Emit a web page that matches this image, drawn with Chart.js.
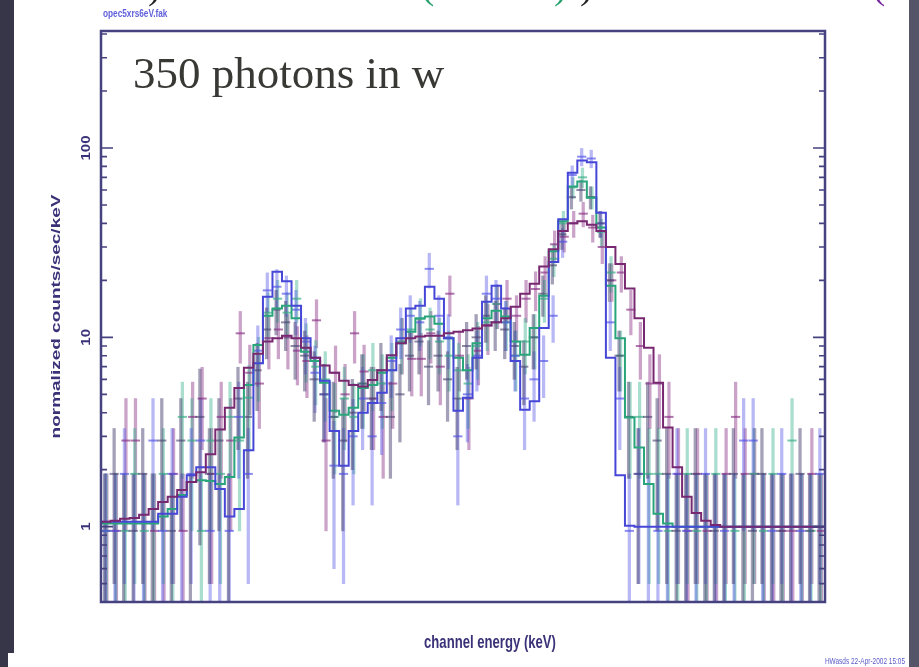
<!DOCTYPE html>
<html>
<head>
<meta charset="utf-8">
<title>opec5xrs6eV.fak</title>
<script src="https://cdn.jsdelivr.net/npm/chart.js@4.4.1/dist/chart.umd.min.js"></script>
<style>
  html, body { margin: 0; padding: 0; }
  body {
    width: 919px; height: 667px; position: relative; overflow: hidden;
    background: linear-gradient(90deg, #363648 0%, #55556a 100%);
  }
  #panel { position: absolute; left: 14px; top: 0; width: 895px; height: 667px; background: #fff; }
  #notch { position: absolute; left: 8px; top: 653px; width: 8px; height: 14px; background: #fff; }
  #spectrum { position: absolute; left: 0; top: 0; }
</style>
</head>
<body>
<div id="panel"></div>
<div id="notch"></div>
<canvas id="spectrum" width="919" height="667"></canvas>
<script>
// model curves, one value per channel bin (counts/sec/keV)
const modelBlue = [
  1.06, 1.06, 1.06, 1.06, 1.06, 1.06, 1.17, 1.17, 1.44, 1.87,
  2.06, 2.06, 1.58, 1.13, 1.24, 2.53, 7.3, 16.4, 22.2, 19.8,
  14.7, 9.9, 7.8, 5.9, 3.2, 2.1, 3.2, 4.0, 4.5, 5.1,
  6.7, 9.9, 14.2, 14.7, 18.5, 16.0, 9.9, 4.1, 4.8, 7.8,
  15.4, 18.7, 14.2, 7.5, 4.15, 4.6, 11.2, 25, 42, 74,
  86, 84, 45.5, 7.8, 1.87, 1.01, 1, 1, 1, 1,
  1, 1, 1, 1, 1, 1, 1, 1, 1, 1,
  1, 1, 1, 1, 1, 1
];
const modelGreen = [
  1.04, 1.04, 1.04, 1.04, 1.04, 1.04, 1.13, 1.24, 1.47, 1.72,
  1.76, 1.74, 1.68, 1.83, 2.96, 5.6, 9.1, 13.0, 14.2, 14.7,
  12.6, 8.4, 7.5, 5.75, 4.1, 3.9, 4.25, 5.4, 5.6, 6.5,
  7.8, 9.3, 10.7, 12.6, 12.9, 11.8, 9.9, 7.8, 6.7, 9.3,
  12.6, 13.8, 12.9, 9.5, 8.1, 11.2, 16.6, 28.5, 41, 62.6,
  66.5, 54.6, 38, 18.7, 9.9, 3.77, 2.62, 1.68, 1.17, 1.04,
  1, 1, 1, 1, 1, 1, 1, 1, 1, 1,
  1, 1, 1, 1, 1, 1
];
const modelPurple = [
  1.06, 1.075, 1.10, 1.11, 1.155, 1.24, 1.35, 1.44, 1.56, 1.72,
  1.94, 2.41, 3.26, 4.25, 5.4, 6.9, 8.2, 9.5, 9.9, 10.2,
  9.9, 8.8, 7.8, 7.1, 6.5, 5.9, 5.6, 5.5, 5.95, 6.7,
  8.05, 9.3, 9.9, 10.1, 10.2, 10.2, 10.5, 10.7, 10.9, 11.15,
  11.6, 12.0, 12.6, 14.5, 17.0, 19.2, 23.7, 29.2, 36.4, 40.1,
  41, 39.3, 36.4, 30, 24.4, 18.1, 12.6, 8.8, 5.75, 3.34,
  2.06, 1.44, 1.18, 1.075, 1.02, 1, 1, 1, 1, 1,
  1, 1, 1, 1, 1, 1
];

// folded data and 1-sigma errors for the four spectra
const dataDark = [
  0, 1.9, 0, 0.95, 1.9, 0, 2.85, 0.95, 2.85, 0,
  3.8, 1.9, 2.85, 0, 4.75, 3.8, 6.7, 11, 14, 12,
  9, 8, 6, 5, 3.8, 2.85, 4, 5.7, 4.75, 6.7,
  3.8, 5, 8, 9.5, 7, 8, 6, 4.75, 9, 10,
  13, 12, 11, 9, 7, 10, 17, 24, 35, 55,
  60, 55, 40, 20, 8, 3.8, 1.9, 3.8, 2.85, 1.9,
  0.95, 0, 1.9, 0, 0.95, 0, 1.9, 0, 0.95, 1.9,
  0, 0.95, 0, 1.9, 0.95, 0
];
const errDark = [
  1.9, 1.4, 1.9, 0.95, 1.4, 1.9, 1.9, 0.95, 1.9, 1.9,
  3.0, 1.4, 1.9, 1.9, 2.2, 2.0, 2.6, 3.3, 3.7, 3.5,
  3.0, 2.8, 2.4, 2.2, 2.0, 1.9, 2.0, 2.4, 2.2, 2.6,
  2.0, 2.2, 2.8, 3.1, 2.6, 2.8, 2.4, 2.2, 3.0, 3.2,
  3.6, 3.5, 3.3, 3.0, 2.6, 3.2, 4.1, 4.9, 5.9, 7.4,
  7.7, 7.4, 6.3, 4.5, 2.8, 2.0, 1.4, 2.0, 1.9, 1.4,
  0.95, 1.9, 1.4, 1.9, 0.95, 1.9, 1.4, 1.9, 0.95, 1.4,
  1.9, 0.95, 1.9, 1.4, 0.95, 1.9
];
const dataBlue = [
  0.95, 0.95, 1.9, 0, 0, 2.85, 0.95, 1.9, 0, 1.9,
  2.85, 0.95, 0, 0.95, 3.8, 1.9, 8.5, 17.7, 18.5, 17,
  14, 9.5, 6.5, 5, 2.1, 1.9, 3, 4.75, 3, 4.5,
  7.5, 11, 13, 12, 23, 13, 10, 3, 5, 8,
  17, 16, 12, 8, 4.75, 6, 7.5, 13, 32, 72,
  90, 88, 40, 12, 4.75, 0.95, 1.9, 0, 0.95, 0,
  1.9, 0.95, 0, 1.9, 0, 0.95, 0, 2.85, 2.85, 0,
  0.95, 1.9, 0, 0.95, 0, 1.9
];
const errBlue = [
  0.95, 0.95, 1.4, 1.9, 1.9, 1.9, 0.95, 1.4, 1.9, 1.4,
  1.9, 0.95, 1.9, 0.95, 2.0, 1.4, 3.0, 4.2, 4.3, 4.1,
  3.7, 3.1, 2.5, 2.2, 1.5, 1.4, 1.7, 2.2, 1.7, 2.1,
  2.7, 3.3, 3.6, 3.5, 4.8, 3.6, 3.2, 1.7, 2.2, 2.8,
  4.1, 4.0, 3.5, 2.8, 2.2, 2.4, 2.7, 3.6, 5.6, 8.5,
  9.5, 9.4, 6.3, 3.5, 2.2, 0.95, 1.4, 1.9, 0.95, 1.9,
  1.4, 0.95, 1.9, 1.4, 1.9, 0.95, 1.9, 1.9, 1.9, 1.9,
  0.95, 1.4, 1.9, 0.95, 1.9, 1.4
];
const dataGreen = [
  0.95, 0, 0.95, 1.9, 0.95, 0, 1.9, 0, 3.8, 2.85,
  0.95, 2.85, 1.9, 3.8, 2.85, 4.8, 7.3, 13.5, 16, 13.5,
  16, 8.8, 7, 6, 3.8, 4.75, 3.8, 5.7, 6.7, 5.7,
  6.7, 9.5, 11, 12.5, 11, 9.5, 8, 6.7, 5.7, 9,
  12, 15, 12, 8, 9.5, 10, 16, 26, 40, 62,
  70, 55, 36, 22, 8, 3.8, 3.8, 1.9, 1.9, 0.95,
  0, 1.9, 0.95, 0, 1.9, 0, 0.95, 0, 1.9, 0.95,
  1.9, 0, 2.85, 0, 0.95, 0
];
const errGreen = [
  0.95, 1.9, 0.95, 1.4, 0.95, 1.9, 1.4, 1.9, 2.0, 1.9,
  0.95, 1.9, 1.4, 2.0, 1.9, 2.3, 2.7, 3.7, 4.0, 3.7,
  4.0, 3.0, 2.6, 2.4, 1.9, 2.2, 1.9, 2.4, 2.6, 2.4,
  2.6, 3.1, 3.3, 3.5, 3.3, 3.1, 2.8, 2.6, 2.4, 3.0,
  3.5, 3.9, 3.5, 2.8, 3.1, 3.2, 4.0, 5.1, 6.3, 7.9,
  8.4, 7.4, 6.0, 4.7, 2.8, 2.0, 2.0, 1.4, 1.4, 0.95,
  1.9, 1.4, 0.95, 1.9, 1.4, 1.9, 0.95, 1.9, 1.4, 0.95,
  1.4, 1.9, 1.9, 1.9, 0.95, 1.9
];
const dataPurple = [
  0.95, 0.95, 2.85, 2.85, 0, 0.95, 0, 1.9, 0.95, 3.8,
  4.75, 1.9, 3.8, 2.85, 10.5, 6.5, 5.7, 9.9, 11, 10,
  8.5, 7.5, 12.3, 2.85, 6.5, 5, 10.5, 6.6, 4.75, 3.8,
  5.7, 9.5, 7.7, 7.7, 10.5, 7, 17, 8, 4.75, 8.5,
  11.5, 15, 16, 13, 16, 18, 22, 31, 34, 40,
  45, 38, 30, 20, 22, 14, 9, 5.7, 5.7, 3.8,
  1.9, 0.95, 1.9, 0.95, 0, 1.9, 3.8, 1.9, 1.9, 0,
  0, 0.95, 0.95, 0, 1.9, 0.95
];
const errPurple = [
  0.95, 0.95, 1.9, 1.9, 1.9, 0.95, 1.9, 1.4, 0.95, 2.0,
  2.2, 1.4, 2.0, 1.9, 3.2, 2.6, 2.4, 3.1, 3.3, 3.2,
  2.9, 2.7, 3.5, 1.9, 2.5, 2.2, 3.2, 2.5, 2.2, 2.0,
  2.4, 3.1, 2.8, 2.8, 3.2, 2.6, 4.1, 2.8, 2.2, 2.9,
  3.4, 3.9, 4.0, 3.6, 4.0, 4.2, 4.7, 5.5, 5.8, 6.3,
  6.7, 6.2, 5.5, 4.5, 4.7, 3.7, 3.0, 2.4, 2.4, 2.0,
  1.4, 0.95, 1.4, 0.95, 1.9, 1.4, 2.0, 1.4, 1.4, 1.9,
  1.9, 0.95, 0.95, 1.9, 1.4, 0.95
];

const yTicks = [1, 10, 100];
const yRange = [0.4, 415];
const nChan = modelBlue.length;

const frameColor = 'rgb(70, 66, 128)';
const labelColor = 'rgb(58, 50, 120)';
const sansFont = '"Liberation Sans", Arial, sans-serif';

// model lines as histograms: a point at each bin's left edge plus the final edge
function stepPoints(values) {
  const pts = values.map((v, i) => ({ x: i, y: v }));
  pts.push({ x: values.length, y: values[values.length - 1] });
  return pts;
}

// vertical error bars, floor the lower end where it drops to zero
function errorBars(values, errs, shift) {
  return values.map((v, i) => ({
    x: i + 0.5 + shift,
    y: [Math.max(v - errs[i], 0.05), v + errs[i]]
  }));
}

// horizontal tick at each measured value (empty bins have none)
function dataTicks(values, shift) {
  return values
    .map((v, i) => ({ x: i + 0.5 + shift, y: v }))
    .filter(p => p.y > 0);
}

function barSet(values, errs, shift, color, order) {
  return {
    type: 'bar', data: errorBars(values, errs, shift), backgroundColor: color,
    borderWidth: 0, barThickness: 2.6, grouped: false, order: order
  };
}

function tickSet(values, shift, color, order) {
  return {
    type: 'line', data: dataTicks(values, shift), showLine: false,
    pointStyle: 'line', pointRadius: 4.6, pointBorderWidth: 2,
    pointBorderColor: color, pointBackgroundColor: color, order: order
  };
}

function modelSet(values, color, order) {
  return {
    type: 'line', data: stepPoints(values), stepped: true,
    borderColor: color, borderWidth: 2, pointRadius: 0, fill: false, order: order
  };
}

// draw text squeezed horizontally, like the rest of the plot
function squeezed(ctx, text, x, y, font, color, align, sx, angle) {
  ctx.save();
  ctx.translate(x, y);
  ctx.scale(sx, 1);
  if (angle) ctx.rotate(angle);
  ctx.font = font;
  ctx.fillStyle = color;
  ctx.textAlign = align;
  ctx.textBaseline = angle ? 'middle' : 'alphabetic';
  ctx.fillText(text, 0, 0);
  ctx.restore();
}

const framePlugin = {
  id: 'frame',
  afterDraw(chart) {
    const { ctx, chartArea: area, scales: { y } } = chart;
    ctx.save();

    ctx.strokeStyle = frameColor;
    ctx.lineWidth = 2.5;
    ctx.strokeRect(area.left, area.top, area.right - area.left, area.bottom - area.top);

    // log ticks on both vertical edges, pointing inward
    ctx.lineWidth = 1.6;
    for (let dec = 0.1; dec <= 100; dec *= 10) {
      for (let m = 1; m <= 9; m++) {
        const v = m * dec;
        if (v < yRange[0] || v > yRange[1]) continue;
        const py = y.getPixelForValue(v);
        const len = m === 1 ? 12 : 6;
        ctx.beginPath();
        ctx.moveTo(area.left, py);
        ctx.lineTo(area.left + len, py);
        ctx.moveTo(area.right, py);
        ctx.lineTo(area.right - len, py);
        ctx.stroke();
      }
    }

    yTicks.forEach(t => {
      squeezed(ctx, String(t), area.left - 14, y.getPixelForValue(t),
        'bold 15px ' + sansFont, labelColor, 'center', 0.8, -Math.PI / 2);
    });

    squeezed(ctx, 'normalized counts/sec/keV', 56, (area.top + area.bottom) / 2,
      'bold 19px ' + sansFont, labelColor, 'center', 0.7, -Math.PI / 2);
    squeezed(ctx, 'channel energy (keV)', 490, 648,
      'bold 19px ' + sansFont, labelColor, 'center', 0.69);

    squeezed(ctx, 'opec5xrs6eV.fak', 103, 17,
      'bold 11px ' + sansFont, 'rgb(95, 95, 220)', 'left', 0.75);
    squeezed(ctx, 'HWasds 22-Apr-2002 15:05', 905, 664,
      '9px ' + sansFont, 'rgb(90, 90, 200)', 'right', 0.72);

    ctx.font = '45px "Liberation Serif", "Times New Roman", serif';
    ctx.fillStyle = '#383834';
    ctx.textAlign = 'left';
    ctx.textBaseline = 'alphabetic';
    ctx.fillText('350 photons in w', 133, 88);

    // tails of the heading line above the plot
    ctx.font = '40px "Liberation Serif", serif';
    ctx.fillStyle = '#222';
    ctx.fillText(')', 148, -2);
    ctx.fillText(')', 580, -2);
    ctx.fillStyle = 'rgb(40, 160, 110)';
    ctx.fillText('(', 421, -2);
    ctx.fillText(')', 554, -2);
    ctx.fillStyle = 'rgb(120, 40, 160)';
    ctx.fillText('(', 872, -2);

    ctx.restore();
  }
};

new Chart(document.getElementById('spectrum'), {
  type: 'bar',
  data: {
    datasets: [
      modelSet(modelPurple, 'rgb(120, 40, 112)', 0),
      modelSet(modelBlue, 'rgb(70, 70, 215)', 1),
      modelSet(modelGreen, 'rgb(40, 165, 122)', 2),
      tickSet(dataDark, -0.12, 'rgba(70, 64, 110, 0.6)', 3),
      tickSet(dataBlue, -0.04, 'rgba(80, 80, 230, 0.65)', 4),
      tickSet(dataGreen, 0.04, 'rgba(50, 170, 130, 0.65)', 5),
      tickSet(dataPurple, 0.12, 'rgba(135, 45, 130, 0.65)', 6),
      barSet(dataDark, errDark, -0.12, 'rgba(72, 66, 112, 0.5)', 7),
      barSet(dataBlue, errBlue, -0.04, 'rgba(85, 85, 230, 0.42)', 8),
      barSet(dataGreen, errGreen, 0.04, 'rgba(50, 175, 135, 0.42)', 9),
      barSet(dataPurple, errPurple, 0.12, 'rgba(140, 50, 135, 0.45)', 10)
    ]
  },
  options: {
    responsive: false,
    animation: false,
    devicePixelRatio: 1,
    events: [],
    layout: { padding: { left: 101, right: 94, top: 31, bottom: 65 } },
    plugins: { legend: { display: false }, tooltip: { enabled: false } },
    scales: {
      x: { type: 'linear', min: 0, max: nChan, offset: false, display: false },
      y: { type: 'logarithmic', min: yRange[0], max: yRange[1], display: false }
    }
  },
  plugins: [framePlugin]
});
</script>
</body>
</html>
